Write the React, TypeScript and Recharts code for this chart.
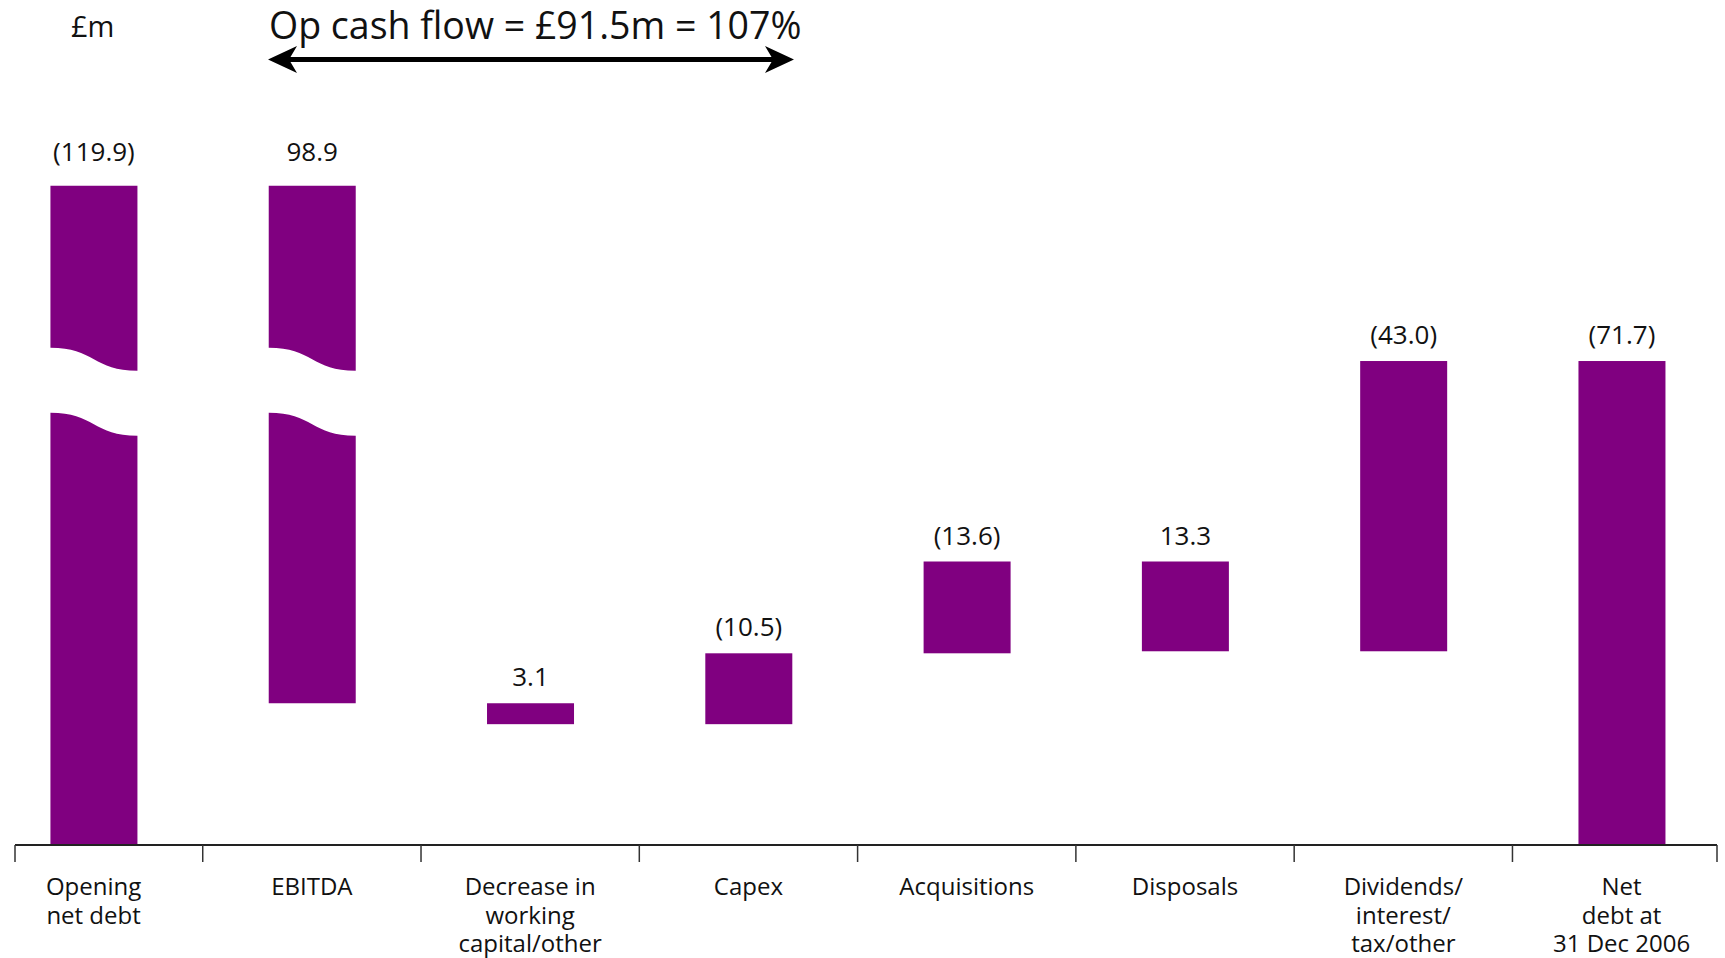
import React from "react";
import { BarChart, Bar, XAxis, YAxis } from "recharts";

// category labels, one entry per line
const categories: string[][] = [
  ["Opening", "net debt"],
  ["EBITDA"],
  ["Decrease in", "working", "capital/other"],
  ["Capex"],
  ["Acquisitions"],
  ["Disposals"],
  ["Dividends/", "interest/", "tax/other"],
  ["Net", "debt at", "31 Dec 2006"],
];

// £m, debt movements (positive = debt goes up)
const openingDebt = 119.9;
const movements = [-98.9, -3.1, 10.5, 13.6, -13.3, 43.0];
const closingDebt = 71.7;

const valueLabels = ["(119.9)", "98.9", "3.1", "(10.5)", "(13.6)", "13.3", "(43.0)", "(71.7)"];
const brokenBars = [0, 1];

const FONT = '"Open Sans", "Noto Sans", sans-serif';
const PURPLE = "#800080";
const INK = "#111";
const CUT = 150; // px taken out of the tall bars by the axis break
const X_DOMAIN: [number, number] = [-0.36, 7.437];

const round1 = (v: number) => Math.round(v * 10) / 10;

const rows = (() => {
  const out: { idx: number; range: [number, number]; label: string; broken: boolean }[] = [];
  let level = openingDebt;
  out.push({ idx: 0, range: [0, openingDebt], label: valueLabels[0], broken: brokenBars.includes(0) });
  movements.forEach((m, i) => {
    const next = round1(level + m);
    out.push({
      idx: i + 1,
      range: [Math.min(level, next), Math.max(level, next)],
      label: valueLabels[i + 1],
      broken: brokenBars.includes(i + 1),
    });
    level = next;
  });
  out.push({ idx: 7, range: [0, closingDebt], label: valueLabels[7], broken: brokenBars.includes(7) });
  return out;
})();

const boundaryTicks = [X_DOMAIN[0], ...categories.slice(1).map((_, i) => i + 0.5), X_DOMAIN[1]];

function WaterfallBar(props: any) {
  const { x, y, width, height, payload } = props;
  const top0 = Math.min(y, y + height);
  const bottom = Math.max(y, y + height);
  const broken = payload?.broken;
  const top = broken ? top0 + CUT : top0;
  const cx = x + width / 2;
  let body;
  if (broken) {
    const y0 = top + 162;
    const amp = 23;
    const gap = 65;
    const r = x + width;
    body = (
      <g fill={PURPLE}>
        <path
          d={`M${x},${top} L${r},${top} L${r},${y0 + amp} C${cx},${y0 + amp} ${cx},${y0} ${x},${y0} Z`}
        />
        <path
          d={`M${x},${y0 + gap} C${cx},${y0 + gap} ${cx},${y0 + gap + amp} ${r},${y0 + gap + amp} L${r},${bottom} L${x},${bottom} Z`}
        />
      </g>
    );
  } else {
    body = <rect x={x} y={top} width={width} height={bottom - top} fill={PURPLE} />;
  }
  return (
    <g>
      {body}
      <text
        x={cx}
        y={top - (broken ? 25 : 17)}
        textAnchor="middle"
        fontFamily={FONT}
        fontSize={26}
        fill={INK}
      >
        {payload?.label}
      </text>
    </g>
  );
}

function CategoryTick(props: any) {
  const { x, y, payload } = props;
  const lines = categories[Math.round(payload.value)] ?? [];
  return (
    <g>
      {lines.map((line, i) => (
        <text
          key={line}
          x={x}
          y={y + 30 + i * 28.5}
          textAnchor="middle"
          fontFamily={FONT}
          fontSize={24}
          fill={INK}
        >
          {line}
        </text>
      ))}
    </g>
  );
}

function NoLabel() {
  return <g />;
}

export default function App() {
  return (
    <div style={{ position: "absolute", left: 0, top: 0, width: 1725, height: 958, background: "#fff" }}>
      <BarChart
        width={1725}
        height={958}
        data={rows}
        margin={{ top: 35, right: 8, left: 15, bottom: 3 }}
      >
        <XAxis
          xAxisId="bounds"
          dataKey="idx"
          type="number"
          domain={X_DOMAIN}
          allowDataOverflow
          ticks={boundaryTicks}
          interval={0}
          tick={<NoLabel />}
          tickSize={17}
          tickLine={{ stroke: "#333", strokeWidth: 1.5 }}
          axisLine={{ stroke: "#222", strokeWidth: 2 }}
          height={20}
        />
        <XAxis
          xAxisId="cats"
          dataKey="idx"
          type="number"
          domain={X_DOMAIN}
          allowDataOverflow
          ticks={categories.map((_, i) => i)}
          interval={0}
          tick={<CategoryTick />}
          tickLine={false}
          axisLine={false}
          tickSize={0}
          tickMargin={0}
          height={90}
        />
        <YAxis hide domain={[0, 120]} allowDataOverflow />
        <Bar
          xAxisId="bounds"
          dataKey="range"
          barSize={87}
          shape={<WaterfallBar />}
          isAnimationActive={false}
        />
      </BarChart>
      <svg
        width={1725}
        height={958}
        style={{ position: "absolute", left: 0, top: 0, pointerEvents: "none" }}
      >
        <text x={71} y={37} fontFamily={FONT} fontSize={29} fill={INK}>
          £m
        </text>
        <text x={269} y={39} fontFamily={FONT} fontSize={37.5} fill={INK}>
          Op cash flow = £91.5m = 107%
        </text>
        <rect x={284} y={57} width={494} height={5} fill="#000" />
        <path d="M268,59.5 L297,46 L289,59.5 L297,73 Z" fill="#000" />
        <path d="M794,59.5 L765,46 L773,59.5 L765,73 Z" fill="#000" />
      </svg>
    </div>
  );
}
